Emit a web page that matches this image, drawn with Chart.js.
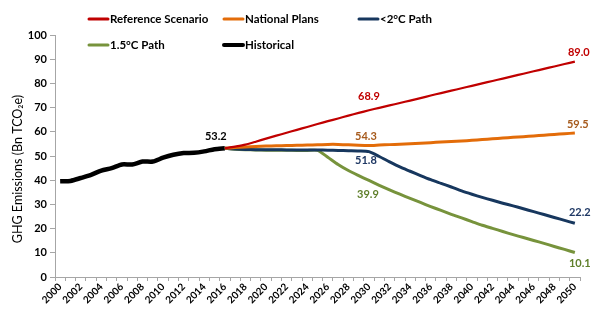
<!DOCTYPE html>
<html>
<head>
<meta charset="utf-8">
<script src="https://cdn.jsdelivr.net/npm/chart.js@4.4.1/dist/chart.umd.min.js"></script>
<style>
html,body{margin:0;padding:0;background:#fff;}
#wrap{position:relative;width:606px;height:326px;}
</style>
</head>
<body>
<div id="wrap"><canvas id="c" width="606" height="326"></canvas></div>
<script>
const years = ['2000','2001','2002','2003','2004','2005','2006','2007','2008','2009',
'2010','2011','2012','2013','2014','2015','2016','2017','2018','2019',
'2020','2021','2022','2023','2024','2025','2026','2027','2028','2029',
'2030','2031','2032','2033','2034','2035','2036','2037','2038','2039',
'2040','2041','2042','2043','2044','2045','2046','2047','2048','2049','2050'];

const N16 = [null,null,null,null,null,null,null,null,null,null,null,null,null,null,null,null];

const historical = [39.6,39.7,40.9,42.2,44.0,45.0,46.5,46.5,47.7,47.7,49.3,50.5,51.2,51.3,51.9,52.8,53.2];

const referenceScenario = N16.concat([53.2,53.9,54.7,55.9,57.2,58.4,59.6,60.8,62.0,63.2,
64.4,65.5,66.7,67.8,68.9,69.9,70.9,71.9,72.9,73.9,
75.0,76.0,77.0,78.0,79.0,80.0,81.0,82.0,83.0,84.0,
85.0,86.0,87.0,88.0,89.0]);

const nationalPlans = N16.concat([53.2,53.5,53.7,53.9,54.1,54.2,54.3,54.4,54.5,54.6,
54.8,54.8,54.6,54.4,54.3,54.5,54.7,54.9,55.1,55.3,
55.5,55.8,56.0,56.2,56.5,56.8,57.1,57.4,57.7,58.0,
58.3,58.6,58.9,59.2,59.5]);

const path2C = N16.concat([53.2,52.9,52.7,52.6,52.6,52.6,52.5,52.5,52.5,52.5,
52.4,52.3,52.2,52.1,51.8,49.8,47.6,45.5,43.7,41.9,
40.2,38.7,37.2,35.6,34.2,32.9,31.7,30.5,29.4,28.2,
27.0,25.8,24.6,23.4,22.2]);

const path15C = N16.concat([53.2,52.8,52.6,52.5,52.4,52.4,52.4,52.3,52.3,52.3,
49.5,46.5,44.0,41.9,39.9,37.9,36.0,34.2,32.5,30.8,
29.1,27.5,25.9,24.4,22.9,21.4,20.1,18.8,17.5,16.3,
15.1,13.9,12.6,11.4,10.1]);

const seriesNames = ['Reference Scenario','National Plans','<2°C Path','1.5°C Path','Historical'];
const yTitle = 'GHG Emissions (Bn TCO₂e)';

// value labels: [dataset index, year]
const valueLabels = [[4,'2016'],[0,'2030'],[0,'2050'],[1,'2030'],[1,'2050'],[2,'2030'],[2,'2050'],[3,'2030'],[3,'2050']];

const lineColors = ['#c00000','#e36c09','#17375e','#77933c','#000000'];
const labelColors = ['#c00000','#a65a1c','#1f3864','#5f7f2a','#000000'];
// style offsets for labels (dx, dy) keyed by order in valueLabels
const labelOffsets = [[-9,-12],[0,-14],[4,-9],[-3,-9],[3,-9],[-3,9],[5,-11],[-1,14],[5,11]];

const legendLayout = [[88,19],[223,19],[358,19],[88,45],[223,45]];

const overlay = {
  id:'overlay',
  afterDraw(chart){
    const ctx = chart.ctx;
    const xs = chart.scales.x, ys = chart.scales.y;
    ctx.save();
    // value labels
    ctx.font = 'bold 11px Lato, "DejaVu Sans", sans-serif';
    ctx.textAlign = 'center';
    ctx.textBaseline = 'middle';
    valueLabels.forEach((vl,i)=>{
      const ds = chart.data.datasets[vl[0]];
      const idx = years.indexOf(vl[1]);
      const v = ds.data[idx];
      const px = xs.getPixelForValue(idx) + labelOffsets[i][0];
      const py = ys.getPixelForValue(v) + labelOffsets[i][1];
      ctx.fillStyle = labelColors[vl[0]];
      ctx.fillText(v.toFixed(1), px, py);
    });
    // legend
    ctx.font = 'bold 11.5px Lato, "DejaVu Sans", sans-serif';
    ctx.textAlign = 'left';
    chart.data.datasets.forEach((ds,i)=>{
      const [lx,ly] = legendLayout[i];
      ctx.strokeStyle = ds.borderColor;
      ctx.lineWidth = i===4 ? 4 : 3;
      ctx.lineCap = 'round';
      ctx.beginPath(); ctx.moveTo(lx+1,ly); ctx.lineTo(lx+20,ly); ctx.stroke();
      ctx.fillStyle = '#000';
      ctx.fillText(ds.label, lx+22, ly+0.5);
    });
    // y title
    ctx.translate(18, 169);
    ctx.rotate(-Math.PI/2);
    ctx.font = '12.5px Lato, "DejaVu Sans", sans-serif';
    ctx.textAlign = 'center';
    ctx.fillStyle = '#000';
    ctx.fillText(yTitle, 0, 0);
    ctx.restore();
  }
};

const widths = [2.2,3,3,3,4.5];
const seriesData = [referenceScenario,nationalPlans,path2C,path15C,historical];

new Chart(document.getElementById('c'), {
  type:'line',
  data:{
    labels: years,
    datasets: seriesData.map((d,i)=>({
      label: seriesNames[i],
      data: d,
      borderColor: lineColors[i],
      backgroundColor: lineColors[i],
      borderWidth: widths[i],
      pointRadius: 0,
      tension: 0.25,
      fill:false,
      spanGaps:false
    }))
  },
  options:{
    responsive:false,
    animation:false,
    layout:{padding:{top:35,right:26,left:0,bottom:0}},
    plugins:{legend:{display:false},tooltip:{enabled:false}},
    scales:{
      x:{
        type:'category',
        offset:true,
        grid:{display:true,drawOnChartArea:false,drawTicks:true,tickLength:4,offset:true,color:'#a6a6a6'},
        border:{color:'#a6a6a6'},
        ticks:{
          autoSkip:false,maxRotation:45,minRotation:45,padding:0,
          color:'#000',
          font:{family:'Lato, "DejaVu Sans", sans-serif',size:10,weight:'bold'},
          callback:function(v,i){ const y = years[i]; return (parseInt(y)%2===0)? y : ''; }
        },
        afterFit(s){ s.height = 49; }
      },
      y:{
        min:0,max:100,
        grid:{display:true,drawOnChartArea:false,drawTicks:true,tickLength:5,color:'#a6a6a6'},
        border:{color:'#a6a6a6'},
        ticks:{stepSize:10,padding:3,color:'#000',font:{family:'Lato, "DejaVu Sans", sans-serif',size:11,weight:'bold'}},
        afterFit(s){ s.width = 55; }
      }
    }
  },
  plugins:[overlay]
});
</script>
</body>
</html>
